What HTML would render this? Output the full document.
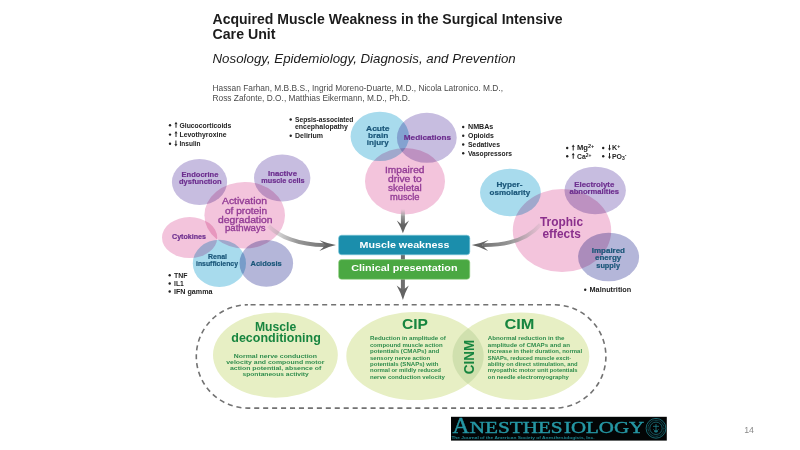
<!DOCTYPE html>
<html lang="en">
<head>
<meta charset="utf-8">
<title>Acquired Muscle Weakness in the Surgical Intensive Care Unit</title>
<style>
  html, body { margin: 0; padding: 0; background: #ffffff; }
  body { width: 800px; height: 450px; overflow: hidden; position: relative; }
  svg { position: absolute; left: 0; top: 0; display: block; }
  text { font-family: "Liberation Sans", sans-serif; }
  .ttl { font-weight: bold; font-size: 13.8px; fill: #1c1c1c; }
  .sub { font-style: italic; font-size: 12.7px; fill: #1c1c1c; }
  .aut { font-size: 8.6px; fill: #4a4a4a; }
  .bl  { font-weight: bold; font-size: 6.9px; fill: #222222; }
  .cp  { font-weight: bold; font-size: 7.1px; fill: #6d2f8f; stroke: #6d2f8f; stroke-width: 0.2px; }
  .cb  { font-weight: bold; font-size: 7.1px; fill: #1a5679; stroke: #1a5679; stroke-width: 0.2px; }
  .cm  { font-weight: normal; font-size: 8.7px; fill: #933c96; stroke: #933c96; stroke-width: 0.32px; }
  .ct  { font-weight: bold; font-size: 12.2px; fill: #8a2f8c; }
  .bx  { font-weight: bold; font-size: 9.6px; fill: #ffffff; }
  .gh  { font-weight: bold; fill: #17853f; }
  .gs  { font-weight: bold; font-size: 6.1px; fill: #2e8c4c; }
  .mb  { mix-blend-mode: multiply; }
  .lg  { font-family: "Liberation Serif", serif; stroke: #2597a4; stroke-width: 0.45px; }
</style>
</head>
<body>
<svg width="800" height="450" viewBox="0 0 800 450">
  <defs>
    <linearGradient id="gl" gradientUnits="userSpaceOnUse" x1="262" y1="0" x2="332" y2="0">
      <stop offset="0" stop-color="#a0a0a0" stop-opacity="0"/>
      <stop offset="0.5" stop-color="#8c8c8c" stop-opacity="0.9"/>
      <stop offset="1" stop-color="#6a6a6a"/>
    </linearGradient>
    <linearGradient id="gr" gradientUnits="userSpaceOnUse" x1="546" y1="0" x2="476" y2="0">
      <stop offset="0" stop-color="#a0a0a0" stop-opacity="0"/>
      <stop offset="0.5" stop-color="#8c8c8c" stop-opacity="0.9"/>
      <stop offset="1" stop-color="#6a6a6a"/>
    </linearGradient>
    <linearGradient id="gd" gradientUnits="userSpaceOnUse" x1="0" y1="209" x2="0" y2="224">
      <stop offset="0" stop-color="#a0a0a0" stop-opacity="0"/>
      <stop offset="0.5" stop-color="#8c8c8c" stop-opacity="0.9"/>
      <stop offset="1" stop-color="#6a6a6a"/>
    </linearGradient>
    </defs>

<text class="ttl" x="212.5" y="23.8" textLength="350.0" lengthAdjust="spacingAndGlyphs">Acquired Muscle Weakness in the Surgical Intensive</text>
<text class="ttl" x="212.5" y="39.3" textLength="63.0" lengthAdjust="spacingAndGlyphs">Care Unit</text>
<text class="sub" x="212.5" y="62.5" textLength="303.2" lengthAdjust="spacingAndGlyphs">Nosology, Epidemiology, Diagnosis, and Prevention</text>
<text class="aut" x="212.5" y="90.8" textLength="290.5" lengthAdjust="spacingAndGlyphs">Hassan Farhan, M.B.B.S., Ingrid Moreno-Duarte, M.D., Nicola Latronico. M.D.,</text>
<text class="aut" x="212.5" y="101.3" textLength="197.5" lengthAdjust="spacingAndGlyphs">Ross Zafonte, D.O., Matthias Eikermann, M.D., Ph.D.</text>
<g>
<ellipse class="mb" cx="199.5" cy="182" rx="27.6" ry="23" fill="#c7bde0"/>
<ellipse class="mb" cx="282.2" cy="178" rx="28.2" ry="23.6" fill="#c7bde0"/>
<ellipse class="mb" cx="189.6" cy="237.6" rx="27.6" ry="20.5" fill="#f3c4dc"/>
<ellipse class="mb" cx="219.4" cy="263.4" rx="26.6" ry="23.6" fill="#a8dbed"/>
<ellipse class="mb" cx="266.3" cy="263.3" rx="26.8" ry="23.4" fill="#b4b6d9"/>
<ellipse class="mb" cx="244.7" cy="215.2" rx="40.3" ry="33.3" fill="#f3c4dc"/>
<ellipse class="mb" cx="379.8" cy="136.4" rx="29.2" ry="24.7" fill="#a8dbed"/>
<ellipse class="mb" cx="426.8" cy="137.8" rx="29.9" ry="25" fill="#c7bde0"/>
<ellipse class="mb" cx="405" cy="181.2" rx="40" ry="33.2" fill="#f3c4dc"/>
<ellipse class="mb" cx="510.4" cy="192.5" rx="30.4" ry="23.7" fill="#a8dbed"/>
<ellipse class="mb" cx="595.2" cy="190.5" rx="30.7" ry="23.8" fill="#c7bde0"/>
<ellipse class="mb" cx="562" cy="230.6" rx="49.2" ry="41.5" fill="#f3c4dc"/>
<ellipse class="mb" cx="608.6" cy="257" rx="30.5" ry="24.3" fill="#b4b6d9"/>
</g>

  <path d="M268.5 226 C 279 236.5, 298 245, 325 245.1" fill="none" stroke="url(#gl)" stroke-width="3.9"/>
  <path d="M319.5 240.2 Q328 243.6 336 245.1 Q328 246.8 319.3 250.9 Q323.5 247.5 325.3 245.1 Q323.5 243 319.5 240.2 Z" fill="#636363"/>
  <path d="M540.5 224.5 C 529 238, 509 245.4, 483 245.1" fill="none" stroke="url(#gr)" stroke-width="3.9"/>
  <path d="M488.6 240 Q480 243.6 471.8 245.1 Q480 246.8 488.2 250.9 Q484 247.5 482.4 245.1 Q484 243 488.6 240 Z" fill="#636363"/>
  <rect x="400.9" y="209" width="4" height="17" fill="url(#gd)"/>
  <path d="M396.8 220.6 Q400.5 223.6 402.9 225.4 Q405.3 223.6 409 220.6 Q405 227 402.9 233.2 Q400.8 227 396.8 220.6 Z" fill="#636363"/>
  <rect x="400.9" y="252" width="4" height="38" fill="#6e6e6e"/>
  <path d="M396.7 285.4 Q400.5 288.2 402.9 290 Q405.3 288.2 408.8 285.4 Q405 292.5 402.9 299.9 Q400.8 292.5 396.7 285.4 Z" fill="#636363"/>
  <rect x="338.6" y="235.2" width="131.2" height="19.6" rx="3" fill="#1b8eac" stroke="#7cc8da" stroke-width="0.6"/>
  <rect x="338.6" y="259.6" width="131.2" height="19.7" rx="3" fill="#4aa842" stroke="#98d488" stroke-width="0.6"/>

<text class="bx" x="359.5" y="248" textLength="90.0" lengthAdjust="spacingAndGlyphs">Muscle weakness</text>
<text class="bx" x="351.3" y="271.3" textLength="106.2" lengthAdjust="spacingAndGlyphs">Clinical presentation</text>
<rect x="196.3" y="304.8" width="409.6" height="103.3" rx="51.6" fill="none" stroke="#727272" stroke-width="1.6" stroke-dasharray="5.05 3.9" stroke-dashoffset="6.3"/>
<clipPath id="cipc"><ellipse cx="415" cy="356" rx="68.7" ry="44"/></clipPath>
<ellipse cx="275.4" cy="355.1" rx="62.4" ry="42.6" fill="#e7efc4"/>
<ellipse cx="415" cy="356" rx="68.7" ry="44" fill="#e7efc4"/>
<ellipse cx="520.9" cy="356.2" rx="68.4" ry="43.8" fill="#e7efc4"/>
<ellipse cx="520.9" cy="356.2" rx="68.4" ry="43.8" fill="#d0e0ae" clip-path="url(#cipc)"/>
<circle cx="170" cy="125.3" r="1.2" fill="#222"/>
<path transform="translate(176 127.6)" d="M-0.5 0.2 L-0.5 -3.6 L-1.55 -3.3 L0 -5.8 L1.55 -3.3 L0.5 -3.6 L0.5 0.2 Z" fill="#222"/>
<text class="bl" x="179.5" y="127.6" textLength="51.8" lengthAdjust="spacingAndGlyphs">Glucocorticoids</text>
<circle cx="170" cy="134.6" r="1.2" fill="#222"/>
<path transform="translate(176 136.9)" d="M-0.5 0.2 L-0.5 -3.6 L-1.55 -3.3 L0 -5.8 L1.55 -3.3 L0.5 -3.6 L0.5 0.2 Z" fill="#222"/>
<text class="bl" x="179.5" y="136.9" textLength="47.0" lengthAdjust="spacingAndGlyphs">Levothyroxine</text>
<circle cx="170" cy="143.7" r="1.2" fill="#222"/>
<path transform="translate(175.9 146)" d="M-0.5 -5.6 L-0.5 -1.8 L-1.55 -2.1 L0 0.4 L1.55 -2.1 L0.5 -1.8 L0.5 -5.6 Z" fill="#222"/>
<text class="bl" x="179.5" y="146" textLength="21.0" lengthAdjust="spacingAndGlyphs">Insulin</text>
<circle cx="290.7" cy="119.5" r="1.2" fill="#222"/>
<text class="bl" x="295" y="121.8" textLength="58.3" lengthAdjust="spacingAndGlyphs">Sepsis-associated</text>
<text class="bl" x="295" y="128.9" textLength="53" lengthAdjust="spacingAndGlyphs">encephalopathy</text>
<circle cx="290.7" cy="135.7" r="1.2" fill="#222"/>
<text class="bl" x="295" y="138" textLength="28" lengthAdjust="spacingAndGlyphs">Delirium</text>
<circle cx="463.2" cy="127.00000000000001" r="1.2" fill="#222"/>
<text class="bl" x="468" y="129.3" textLength="25.3" lengthAdjust="spacingAndGlyphs">NMBAs</text>
<circle cx="463.2" cy="135.7" r="1.2" fill="#222"/>
<text class="bl" x="468" y="138" textLength="25.8" lengthAdjust="spacingAndGlyphs">Opioids</text>
<circle cx="463.2" cy="144.5" r="1.2" fill="#222"/>
<text class="bl" x="468" y="146.8" textLength="32" lengthAdjust="spacingAndGlyphs">Sedatives</text>
<circle cx="463.2" cy="153.2" r="1.2" fill="#222"/>
<text class="bl" x="468" y="155.5" textLength="44" lengthAdjust="spacingAndGlyphs">Vasopressors</text>
<circle cx="567.2" cy="148.0" r="1.2" fill="#222"/>
<path transform="translate(573.2 150.3)" d="M-0.5 0.2 L-0.5 -3.6 L-1.55 -3.3 L0 -5.8 L1.55 -3.3 L0.5 -3.6 L0.5 0.2 Z" fill="#222"/>
<text class="bl" x="577" y="150.3" textLength="17.2" lengthAdjust="spacingAndGlyphs">Mg<tspan dy="-2" font-size="5">2+</tspan></text>
<circle cx="567.2" cy="156.29999999999998" r="1.2" fill="#222"/>
<path transform="translate(573.2 158.6)" d="M-0.5 0.2 L-0.5 -3.6 L-1.55 -3.3 L0 -5.8 L1.55 -3.3 L0.5 -3.6 L0.5 0.2 Z" fill="#222"/>
<text class="bl" x="577" y="158.6" textLength="14.3" lengthAdjust="spacingAndGlyphs">Ca<tspan dy="-2" font-size="5">2+</tspan></text>
<circle cx="603.2" cy="148.0" r="1.2" fill="#222"/>
<path transform="translate(609.5 150.3)" d="M-0.5 -5.6 L-0.5 -1.8 L-1.55 -2.1 L0 0.4 L1.55 -2.1 L0.5 -1.8 L0.5 -5.6 Z" fill="#222"/>
<text class="bl" x="612" y="150.3" textLength="8.2" lengthAdjust="spacingAndGlyphs">K<tspan dy="-2" font-size="5">+</tspan></text>
<circle cx="603.2" cy="156.29999999999998" r="1.2" fill="#222"/>
<path transform="translate(609.5 158.6)" d="M-0.5 -5.6 L-0.5 -1.8 L-1.55 -2.1 L0 0.4 L1.55 -2.1 L0.5 -1.8 L0.5 -5.6 Z" fill="#222"/>
<text class="bl" x="612" y="158.6" textLength="14.5" lengthAdjust="spacingAndGlyphs">PO<tspan dy="1.6" font-size="5">3</tspan><tspan dy="-3.6" font-size="5">-</tspan></text>
<circle cx="169.7" cy="275.2" r="1.2" fill="#222"/>
<text class="bl" x="174" y="277.5" textLength="13.5" lengthAdjust="spacingAndGlyphs">TNF</text>
<circle cx="169.7" cy="283.5" r="1.2" fill="#222"/>
<text class="bl" x="174" y="285.8" textLength="9.8" lengthAdjust="spacingAndGlyphs">IL1</text>
<circle cx="169.7" cy="291.5" r="1.2" fill="#222"/>
<text class="bl" x="174" y="293.8" textLength="38.5" lengthAdjust="spacingAndGlyphs">IFN gamma</text>
<circle cx="585.2" cy="289.7" r="1.2" fill="#222"/>
<text class="bl" x="589.5" y="292" textLength="41.8" lengthAdjust="spacingAndGlyphs">Malnutrition</text>
<text class="cp" x="181.6" y="177.1" textLength="36.8" lengthAdjust="spacingAndGlyphs">Endocrine</text>
<text class="cp" x="179" y="184.1" textLength="42.6" lengthAdjust="spacingAndGlyphs">dysfunction</text>
<text class="cp" x="268" y="175.5" textLength="29" lengthAdjust="spacingAndGlyphs">Inactive</text>
<text class="cp" x="261.3" y="183.3" textLength="43.2" lengthAdjust="spacingAndGlyphs">muscle cells</text>
<text class="cm" x="222" y="204.3" textLength="45" lengthAdjust="spacingAndGlyphs">Activation</text>
<text class="cm" x="225" y="213.5" textLength="42" lengthAdjust="spacingAndGlyphs">of protein</text>
<text class="cm" x="218" y="222.5" textLength="54.5" lengthAdjust="spacingAndGlyphs">degradation</text>
<text class="cm" x="225" y="231.3" textLength="40.5" lengthAdjust="spacingAndGlyphs">pathways</text>
<text class="cp" x="172" y="239.3" textLength="34" lengthAdjust="spacingAndGlyphs">Cytokines</text>
<text class="cb" x="208" y="259" textLength="19" lengthAdjust="spacingAndGlyphs">Renal</text>
<text class="cb" x="196" y="266.2" textLength="42" lengthAdjust="spacingAndGlyphs">insufficiency</text>
<text class="cb" x="250.5" y="265.8" textLength="31.3" lengthAdjust="spacingAndGlyphs" style="font-size:7.5px">Acidosis</text>
<text class="cb" x="366" y="130.5" textLength="23.6" lengthAdjust="spacingAndGlyphs" style="font-size:7.8px">Acute</text>
<text class="cb" x="368" y="138.2" textLength="20.3" lengthAdjust="spacingAndGlyphs" style="font-size:7.8px">brain</text>
<text class="cb" x="366.8" y="145.2" textLength="21.9" lengthAdjust="spacingAndGlyphs" style="font-size:7.8px">injury</text>
<text class="cp" x="403.8" y="139.8" textLength="47.2" lengthAdjust="spacingAndGlyphs" style="font-size:7.7px">Medications</text>
<text class="cm" x="385" y="173" textLength="39.5" lengthAdjust="spacingAndGlyphs">Impaired</text>
<text class="cm" x="388" y="182" textLength="33.8" lengthAdjust="spacingAndGlyphs">drive to</text>
<text class="cm" x="388" y="190.8" textLength="33.8" lengthAdjust="spacingAndGlyphs">skeletal</text>
<text class="cm" x="390" y="199.5" textLength="29.5" lengthAdjust="spacingAndGlyphs">muscle</text>
<text class="cb" x="496.4" y="187.4" textLength="26.0" lengthAdjust="spacingAndGlyphs" style="font-size:7.5px">Hyper-</text>
<text class="cb" x="489.6" y="195" textLength="40.6" lengthAdjust="spacingAndGlyphs" style="font-size:7.5px">osmolarity</text>
<text class="cp" x="574.3" y="186.8" textLength="40.0" lengthAdjust="spacingAndGlyphs" style="font-size:7.3px">Electrolyte</text>
<text class="cp" x="569.4" y="193.8" textLength="49.6" lengthAdjust="spacingAndGlyphs" style="font-size:7.3px">abnormalities</text>
<text class="ct" x="540" y="226.3" textLength="43" lengthAdjust="spacingAndGlyphs">Trophic</text>
<text class="ct" x="542.5" y="237.8" textLength="38.3" lengthAdjust="spacingAndGlyphs">effects</text>
<text class="cb" x="591.8" y="253" textLength="33.2" lengthAdjust="spacingAndGlyphs">Impaired</text>
<text class="cb" x="595" y="260.2" textLength="26.3" lengthAdjust="spacingAndGlyphs">energy</text>
<text class="cb" x="596.3" y="267.6" textLength="23.7" lengthAdjust="spacingAndGlyphs">supply</text>
<text class="gh" x="255" y="330.6" textLength="41.2" lengthAdjust="spacingAndGlyphs" style="font-size:12.4px">Muscle</text>
<text class="gh" x="231.3" y="341.5" textLength="89.5" lengthAdjust="spacingAndGlyphs" style="font-size:12.4px">deconditioning</text>
<text class="gs" x="233.8" y="357.5" textLength="83.2" lengthAdjust="spacingAndGlyphs">Normal nerve conduction</text>
<text class="gs" x="226.3" y="363.8" textLength="98.2" lengthAdjust="spacingAndGlyphs">velocity and compound motor</text>
<text class="gs" x="230" y="370" textLength="91.3" lengthAdjust="spacingAndGlyphs">action potential, absence of</text>
<text class="gs" x="242.5" y="376.3" textLength="66.3" lengthAdjust="spacingAndGlyphs">spontaneous activity</text>
<text class="gh" x="402" y="329.4" textLength="26" lengthAdjust="spacingAndGlyphs" style="font-size:14.6px">CIP</text>
<text class="gs" x="370" y="340" textLength="75.8" lengthAdjust="spacingAndGlyphs">Reduction in amplitude of</text>
<text class="gs" x="370" y="346.5" textLength="72.6" lengthAdjust="spacingAndGlyphs">compound muscle action</text>
<text class="gs" x="370" y="353" textLength="69.2" lengthAdjust="spacingAndGlyphs">potentials (CMAPs) and</text>
<text class="gs" x="370" y="359.5" textLength="60.2" lengthAdjust="spacingAndGlyphs">sensory nerve action</text>
<text class="gs" x="370" y="365.8" textLength="68.4" lengthAdjust="spacingAndGlyphs">potentials (SNAPs) with</text>
<text class="gs" x="370" y="372.1" textLength="71" lengthAdjust="spacingAndGlyphs">normal or mildly reduced</text>
<text class="gs" x="370" y="378.6" textLength="75" lengthAdjust="spacingAndGlyphs">nerve conduction velocity</text>
<text class="gh" x="504.4" y="329" textLength="30.0" lengthAdjust="spacingAndGlyphs" style="font-size:14.6px">CIM</text>
<text class="gs" x="487.8" y="340" textLength="76.7" lengthAdjust="spacingAndGlyphs">Abnormal reduction in the</text>
<text class="gs" x="487.8" y="346.5" textLength="82.2" lengthAdjust="spacingAndGlyphs">amplitude of CMAPs and an</text>
<text class="gs" x="487.8" y="353" textLength="94.3" lengthAdjust="spacingAndGlyphs">increase in their duration, normal</text>
<text class="gs" x="487.8" y="359.5" textLength="83.3" lengthAdjust="spacingAndGlyphs">SNAPs, reduced muscle excit-</text>
<text class="gs" x="487.8" y="365.8" textLength="89.8" lengthAdjust="spacingAndGlyphs">ability on direct stimulation, and</text>
<text class="gs" x="487.8" y="372.1" textLength="89.8" lengthAdjust="spacingAndGlyphs">myopathic motor unit potentials</text>
<text class="gs" x="487.8" y="378.6" textLength="81.1" lengthAdjust="spacingAndGlyphs">on needle electromyography</text>
<text class="gh" font-size="15" transform="translate(474 374.2) rotate(-90)" x="0" y="0" textLength="34.4" lengthAdjust="spacingAndGlyphs">CINM</text>

  <rect x="451" y="416.8" width="215.8" height="23.8" fill="#030506"/>
  <text x="452.6" y="432.5" class="lg" font-size="24" fill="#2597a4" textLength="17" lengthAdjust="spacingAndGlyphs">A</text>
  <text x="469.8" y="432.5" class="lg" font-size="17.3" fill="#2597a4" textLength="92.8" lengthAdjust="spacingAndGlyphs">NESTHES</text>
  <text x="564" y="432.5" class="lg" font-size="17.3" fill="#2597a4" textLength="80.2" lengthAdjust="spacingAndGlyphs">IOLOGY</text>
  <text x="451.4" y="439.4" font-size="4.3" font-weight="bold" fill="#1f8792" textLength="143.2" lengthAdjust="spacingAndGlyphs">The Journal of the American Society of Anesthesiologists, Inc.</text>
  <g fill="none" stroke="#1b6f78">
    <circle cx="656" cy="428.3" r="9.9" stroke-width="0.9"/>
    <circle cx="656" cy="428.3" r="8" stroke-width="1.1" stroke-dasharray="0.7 0.6" stroke="#17606a"/>
    <circle cx="656" cy="428.3" r="6.2" stroke-width="0.8"/>
    <path d="M656 424 L656 433 M653 426.3 L659 426.3 M653.4 429.4 Q656 432.6 658.6 429.4 M654 431.6 L658 431.6" stroke-width="0.8" stroke="#1f8792"/>
  </g>
  <text x="744.2" y="432.5" font-size="8.8" fill="#8a8a8a">14</text>

</svg>
</body>
</html>
